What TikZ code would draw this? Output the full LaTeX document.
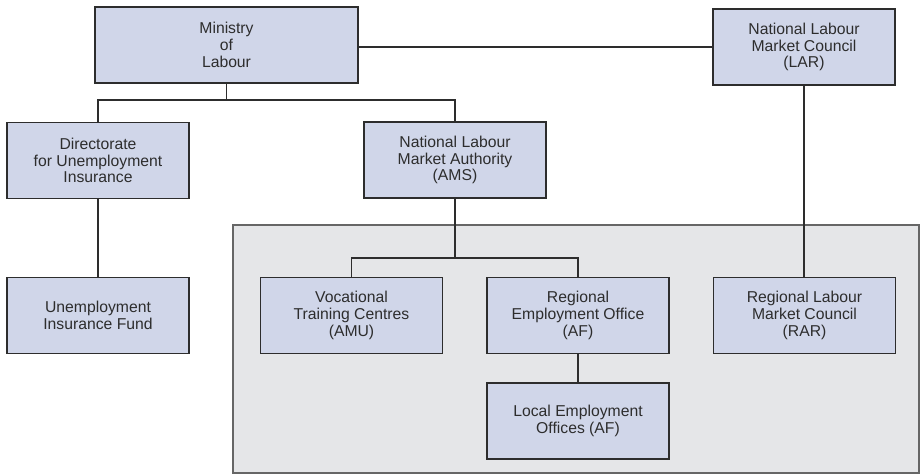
\documentclass[tikz,border=0pt]{standalone}
\usepackage{fontspec}
\setmainfont{Liberation Sans}
\usepackage{xcolor}
\usepackage{tikz}
\usetikzlibrary{positioning}

\definecolor{boxfill}{RGB}{208,214,233}
\definecolor{panelfill}{RGB}{229,230,232}
\definecolor{inkgray}{RGB}{45,45,45}

\begin{document}
\begin{tikzpicture}[x=0.75pt, y=-0.75pt,
  unit/.style={draw=inkgray, line width=1.2pt, fill=boxfill, text=inkgray,
    minimum width=136.5pt, minimum height=57pt, inner sep=0pt, align=center,
    font=\fontsize{11.8}{12.6}\selectfont},
  link/.style={draw=inkgray, line width=1.2pt}]

\useasboundingbox (0,0) rectangle (921,474);

% Shaded panel for the regional level
\draw[fill=panelfill, draw=black!60, line width=0.8pt] (233,225) rectangle (919,473);

% Top level
\node[unit, minimum width=197pt] (ministry) at (226.5,45) {Ministry\\of\\Labour};
\node[unit] (lar) at (804,47) {National Labour\\Market Council\\(LAR)};

% Second level
\node[unit] (dir) at (98,160.5) {Directorate\\for Unemployment\\Insurance};
\node[unit] (ams) at (455,160) {National Labour\\Market Authority\\(AMS)};

% Third level
\node[unit] (fund) at (98,315.5) {Unemployment\\Insurance Fund};
\node[unit] (amu) at (351.5,315.5) {Vocational\\Training Centres\\(AMU)};
\node[unit] (af) at (578,315.5) {Regional\\Employment Office\\(AF)};
\node[unit] (rar) at (804.5,315.5) {Regional Labour\\Market Council\\(RAR)};
\node[unit, below=21pt of af] (local) {Local Employment\\Offices (AF)};

% Branch points
\coordinate (split1) at (ministry.south |- 0,100);
\coordinate (split2) at (ams.south |- 0,258);

% Connectors
\draw[link] (lar.west) -- (lar.west -| ministry.east);
\draw[link] (ministry.south) -- (split1);
\draw[link] (dir.north) |- (split1) -| (ams.north);
\draw[link] (dir.south) -- (fund.north);
\draw[link] (ams.south) -- (split2);
\draw[link] (amu.north) |- (split2) -| (af.north);
\draw[link] (af.south) -- (local.north);
\draw[link] (lar.south) -- (lar.south |- rar.north);

\end{tikzpicture}
\end{document}
